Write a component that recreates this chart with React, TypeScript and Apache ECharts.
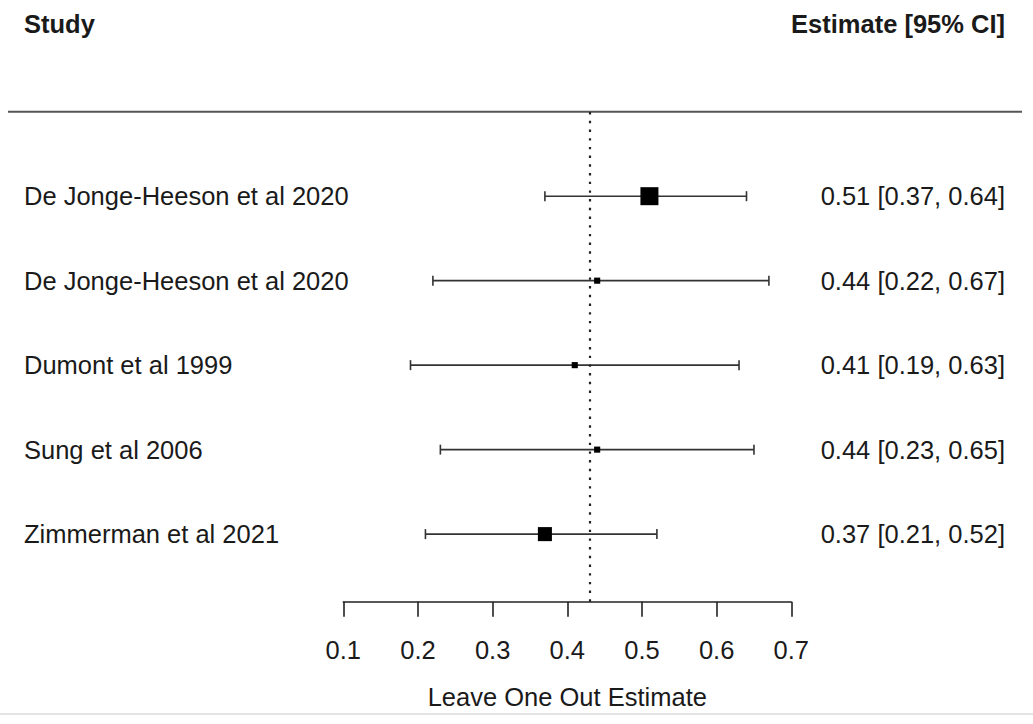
import React, { useEffect, useRef } from "react";
import * as echarts from "echarts";

// Leave-one-out forest plot data
const studies = [
  "De Jonge-Heeson et al 2020",
  "De Jonge-Heeson et al 2020",
  "Dumont et al 1999",
  "Sung et al 2006",
  "Zimmerman et al 2021",
];
const estimates = [0.51, 0.44, 0.41, 0.44, 0.37];
const lower = [0.37, 0.22, 0.19, 0.23, 0.21];
const upper = [0.64, 0.67, 0.63, 0.65, 0.52];
// relative study weights (drive the square size)
const weights = [1.0, 0.34, 0.34, 0.34, 0.78];
const overallEstimate = 0.43;
const xTicks = [0.1, 0.2, 0.3, 0.4, 0.5, 0.6, 0.7];

const FONT = "'Liberation Sans', Arial, Helvetica, sans-serif";
const INK = "#1a1a1a";
const FS = 25.5;

export default function App() {
  const ref = useRef<HTMLDivElement>(null);

  useEffect(() => {
    if (!ref.current) return;
    const chart = echarts.init(ref.current, null, { renderer: "svg" });
    const k = studies.length;
    const rows = studies.map((_, i) => k - i);

    const ciData = studies.map((s, i) => [
      lower[i],
      upper[i],
      rows[i],
      s,
      `${estimates[i].toFixed(2)} [${lower[i].toFixed(2)}, ${upper[i].toFixed(2)}]`,
    ]);

    const option: any = {
      animation: false,
      backgroundColor: "#ffffff",
      grid: { left: 343.3, right: 241.7, top: 111.7, bottom: 122.3 },
      xAxis: {
        type: "value",
        min: xTicks[0],
        max: xTicks[xTicks.length - 1],
        interval: 0.1,
        splitLine: { show: false },
        axisLine: { show: true, lineStyle: { color: "#222", width: 1.6 } },
        axisTick: { show: true, inside: false, length: 15, lineStyle: { color: "#222", width: 1.6 } },
        axisLabel: {
          fontSize: FS,
          fontFamily: FONT,
          color: INK,
          margin: 35,
          formatter: (v: number) => v.toFixed(1),
        },
        name: "Leave One Out Estimate",
        nameLocation: "middle",
        nameGap: 82,
        nameTextStyle: { fontSize: FS, fontFamily: FONT, color: INK },
      },
      yAxis: { type: "value", min: 0.2, max: 6, show: false },
      graphic: [
        {
          type: "text",
          left: 24,
          top: 11,
          style: { text: "Study", font: `bold ${FS}px ${FONT}`, fill: INK },
        },
        {
          type: "text",
          right: 28,
          top: 11,
          style: { text: "Estimate [95% CI]", font: `bold ${FS}px ${FONT}`, fill: INK },
        },
        {
          type: "line",
          shape: { x1: 8, y1: 111.7, x2: 1022, y2: 111.7 },
          style: { stroke: "#555", lineWidth: 2 },
        },
        {
          type: "line",
          shape: { x1: 0, y1: 714, x2: 1033, y2: 714 },
          style: { stroke: "#e4e4e4", lineWidth: 2 },
        },
      ],
      series: [
        {
          type: "custom",
          clip: false,
          data: ciData,
          renderItem: (params: any, api: any) => {
            const row = api.value(2);
            const pLo = api.coord([api.value(0), row]);
            const pHi = api.coord([api.value(1), row]);
            const y = pLo[1];
            const stroke = { stroke: "#333", lineWidth: 1.6 };
            const item = ciData[params.dataIndex];
            return {
              type: "group",
              children: [
                { type: "line", shape: { x1: pLo[0], y1: y, x2: pHi[0], y2: y }, style: stroke },
                { type: "line", shape: { x1: pLo[0], y1: y - 5, x2: pLo[0], y2: y + 5 }, style: stroke },
                { type: "line", shape: { x1: pHi[0], y1: y - 5, x2: pHi[0], y2: y + 5 }, style: stroke },
                {
                  type: "text",
                  style: {
                    text: item[3],
                    x: 24,
                    y,
                    font: `${FS}px ${FONT}`,
                    fill: INK,
                    align: "left",
                    verticalAlign: "middle",
                  },
                },
                {
                  type: "text",
                  style: {
                    text: item[4],
                    x: 1005,
                    y,
                    font: `${FS}px ${FONT}`,
                    fill: INK,
                    align: "right",
                    verticalAlign: "middle",
                  },
                },
              ],
            };
          },
          z: 2,
        },
        {
          type: "scatter",
          data: estimates.map((e, i) => [e, rows[i]]),
          symbol: "rect",
          symbolSize: (_: any, p: any) => 18 * weights[p.dataIndex],
          itemStyle: { color: "#000", opacity: 1 },
          z: 3,
          markLine: {
            silent: true,
            symbol: ["none", "none"],
            label: { show: false },
            lineStyle: { type: [2.4, 6.3], color: "#222", width: 2.2, opacity: 1 },
            data: [{ xAxis: overallEstimate }],
          },
        },
      ],
    };

    chart.setOption(option);
    return () => chart.dispose();
  }, []);

  return (
    <div
      ref={ref}
      style={{ position: "fixed", left: 0, top: 0, width: 1033, height: 724, background: "#fff" }}
    />
  );
}
